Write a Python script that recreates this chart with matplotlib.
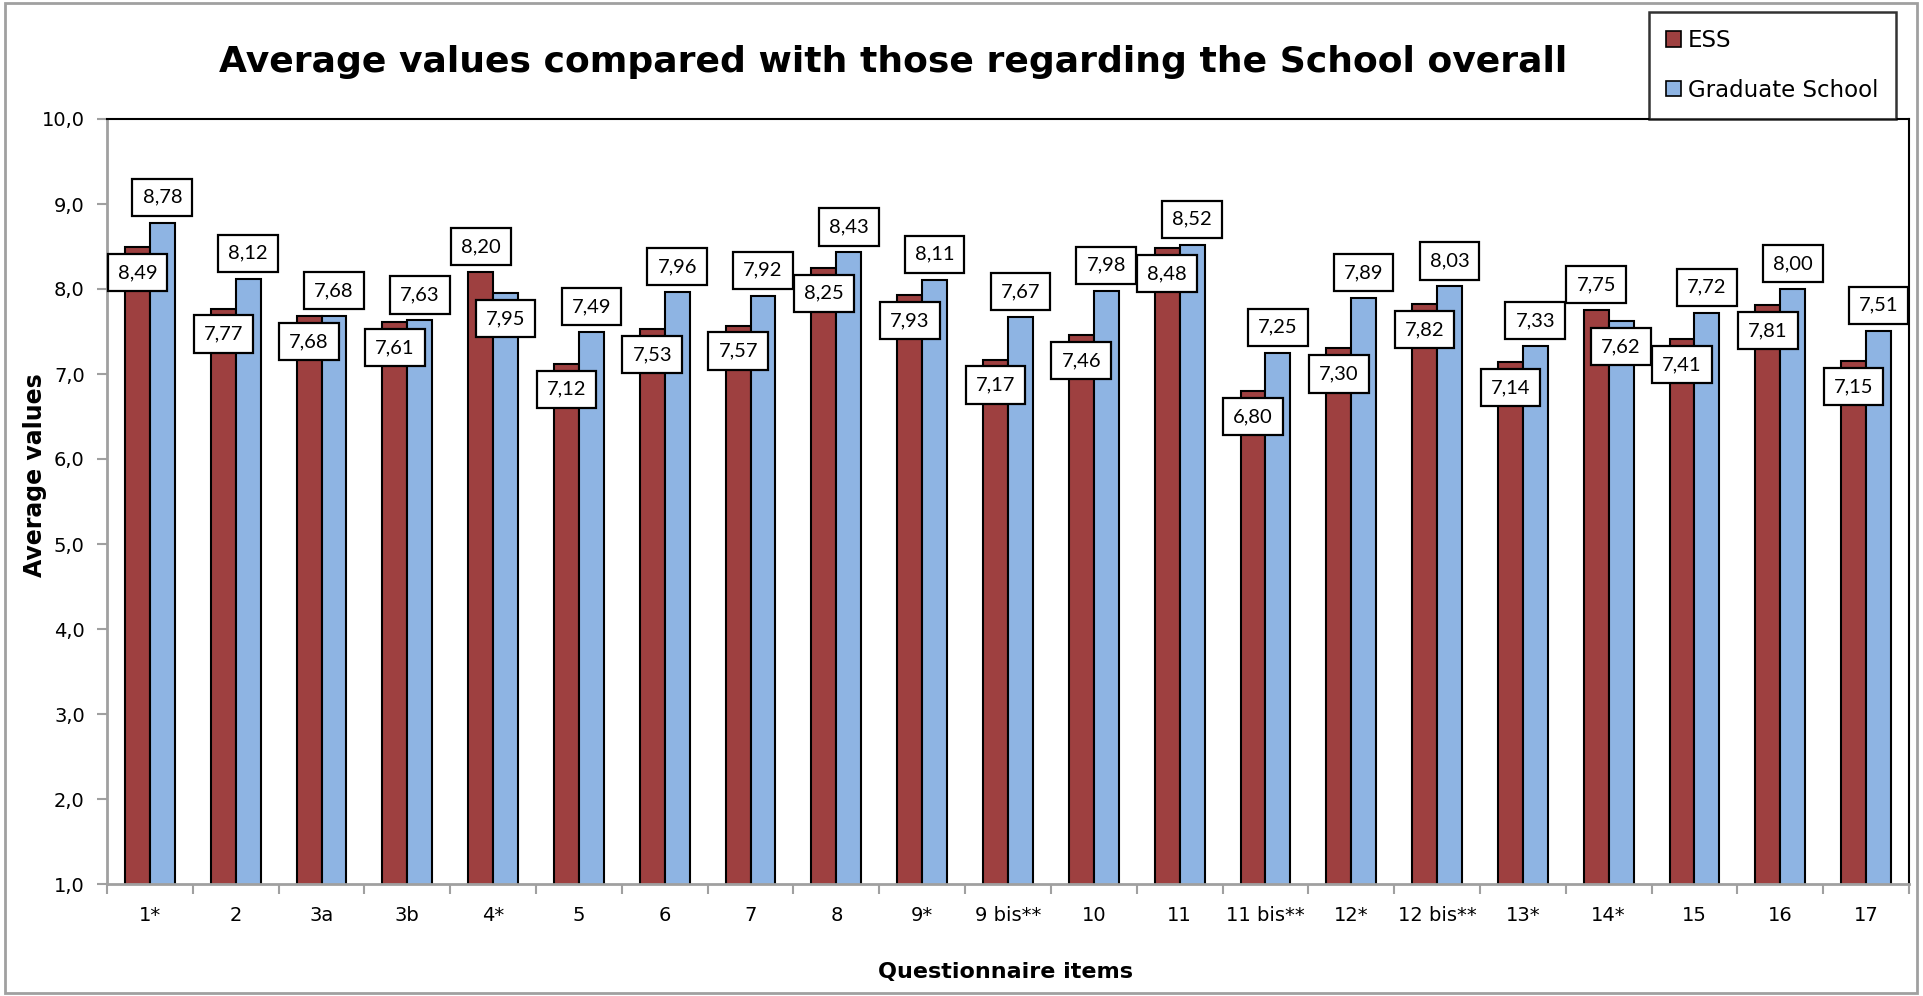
import matplotlib
matplotlib.use("Agg")
import matplotlib.pyplot as plt
from matplotlib.patches import Rectangle
import numpy as np

categories = ["1*", "2", "3a", "3b", "4*", "5", "6", "7", "8", "9*", "9 bis**", "10",
              "11", "11 bis**", "12*", "12 bis**", "13*", "14*", "15", "16", "17"]
ess = [8.49, 7.77, 7.68, 7.61, 8.20, 7.12, 7.53, 7.57, 8.25, 7.93, 7.17, 7.46,
       8.48, 6.80, 7.30, 7.82, 7.14, 7.75, 7.41, 7.81, 7.15]
grad = [8.78, 8.12, 7.68, 7.63, 7.95, 7.49, 7.96, 7.92, 8.43, 8.11, 7.67, 7.98,
        8.52, 7.25, 7.89, 8.03, 7.33, 7.62, 7.72, 8.00, 7.51]
y_ticks = [1.0, 2.0, 3.0, 4.0, 5.0, 6.0, 7.0, 8.0, 9.0, 10.0]

ESS_COLOR = "#9E4040"
GS_COLOR = "#8EB4E3"
SANS = ["DejaVu Sans"]
NUM = ["Lato", "DejaVu Sans"]

fig = plt.figure(figsize=(19.23, 9.96), dpi=100)
fig.patch.set_facecolor("white")
ax = fig.add_axes([107/1923, 1-884/996, (1909-107)/1923, (884-119)/996])

x = np.arange(len(categories))
w = 0.29
ax.bar(x - w/2, ess, w, bottom=0, color=ESS_COLOR, edgecolor="black", linewidth=1.5,
       label="ESS", zorder=2)
ax.bar(x + w/2, grad, w, bottom=0, color=GS_COLOR, edgecolor="black", linewidth=1.5,
       label="Graduate School", zorder=2)

ax.set_xlim(-0.5, len(categories) - 0.5)
ax.set_ylim(1.0, 10.0)
ax.set_yticks(y_ticks)
ax.set_yticklabels([f"{v:.1f}".replace(".", ",") for v in y_ticks], family=SANS, fontsize=14)
ax.set_xticks(x)
ax.set_xticklabels(categories, family=SANS, fontsize=14)
ax.set_xticks(np.arange(len(categories) + 1) - 0.5, minor=True)
ax.tick_params(axis="x", which="major", length=0, pad=16)
ax.tick_params(axis="x", which="minor", length=7, width=1.5, color="#A0A0A0", direction="out")
ax.tick_params(axis="y", which="major", length=7, width=1.5, color="#A0A0A0", direction="out", pad=9)

for side in ["left", "bottom"]:
    ax.spines[side].set_color("#A0A0A0")
    ax.spines[side].set_linewidth(2)
for side in ["top", "right"]:
    ax.spines[side].set_color("black")
    ax.spines[side].set_linewidth(1.5)

off = 0.30
box = dict(boxstyle="square,pad=0.5", fc="white", ec="black", lw=1.6)
for i, (e, g) in enumerate(zip(ess, grad)):
    if e > g:
        ye, yg = e + off, g - off
    else:
        ye, yg = e - off, g + off
    ax.text(i - w/2, ye, f"{e:.2f}".replace(".", ","), ha="center", va="center",
            family=NUM, fontsize=14.5, bbox=box, zorder=5)
    ax.text(i + w/2, yg, f"{g:.2f}".replace(".", ","), ha="center", va="center",
            family=NUM, fontsize=14.5, bbox=box, zorder=5)

fig.text(893/1923, 1-62/996, "Average values compared with those regarding the School overall",
         ha="center", va="center", fontsize=26, fontweight="bold", family=SANS)
fig.text(35/1923, 1-475/996, "Average values", rotation=90, ha="center", va="center",
         fontsize=17, fontweight="bold", family=SANS)
fig.text(1005/1923, 1-972/996, "Questionnaire items", ha="center", va="center",
         fontsize=16, fontweight="bold", family=SANS)

leg = fig.legend(loc="upper left", bbox_to_anchor=(1649/1923, 1-12/996),
                 prop={"family": SANS, "size": 16.5}, frameon=True, fancybox=False,
                 handlelength=0.65, handleheight=0.65, handletextpad=0.3,
                 labelspacing=1.15, borderpad=0.75, borderaxespad=0)
leg.get_frame().set_edgecolor("black")
leg.get_frame().set_linewidth(1.8)
for h in leg.legend_handles:
    h.set_edgecolor("black")
    h.set_linewidth(1.2)

fig.patches.append(Rectangle((5/1923, 3/996), 1912/1923, 990/996, transform=fig.transFigure,
                             fill=False, edgecolor="#A0A0A0", linewidth=2))

fig.savefig("out.png", dpi=100, facecolor="white")
